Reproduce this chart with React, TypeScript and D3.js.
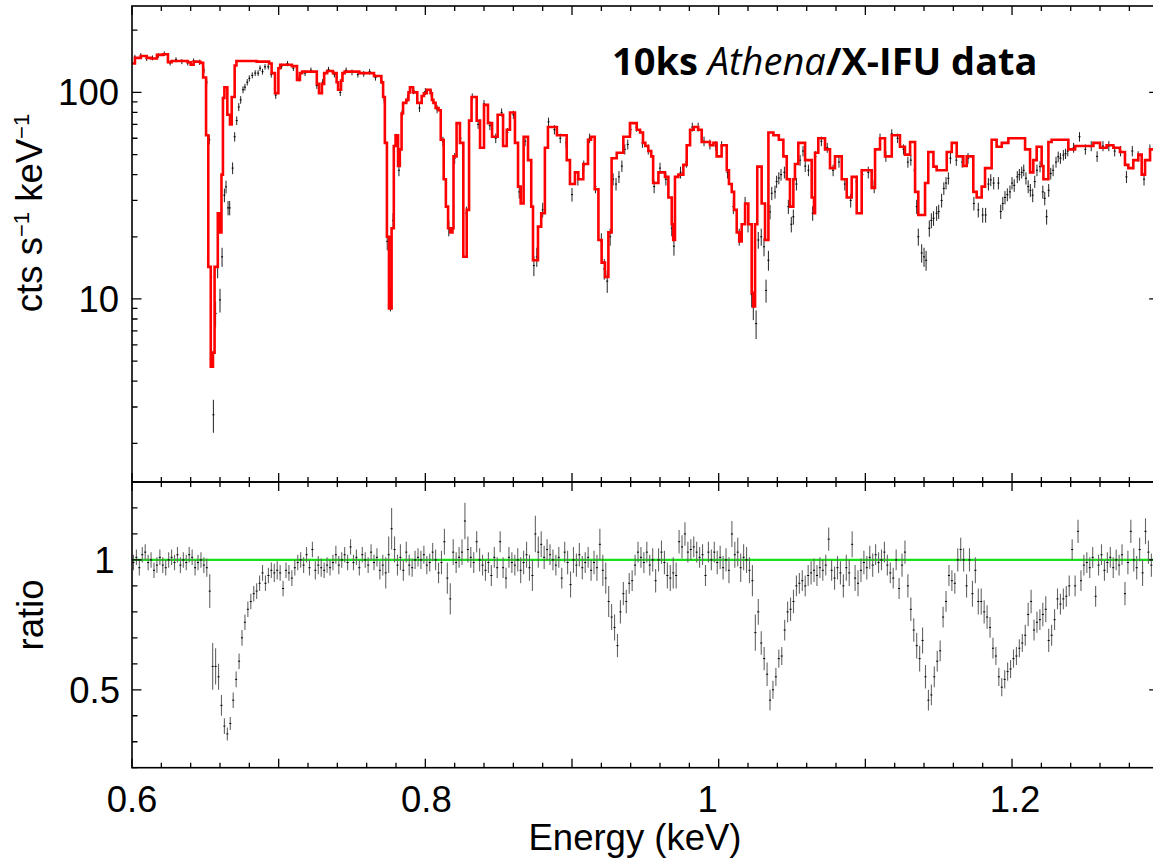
import React from 'react';
import * as d3 from 'd3';

// Model (red step line): [bin left edge keV, cts/s/keV]
const modelSteps: [number, number][] = [
  [0.600,138],[0.602,147],[0.606,150],[0.610,147],[0.613,146],[0.617,152],[0.621,153],[0.6245,140],[0.627,142],[0.638,140],
  [0.640,136],[0.642,141],[0.6465,139],[0.6485,118],[0.6505,62],[0.652,14.3],[0.6537,4.7],[0.6552,5.5],[0.6563,14.3],[0.6585,26],
  [0.6597,21],[0.661,40],[0.662,94],[0.663,106],[0.665,78],[0.6668,70],[0.668,95],[0.670,135],[0.6712,142],[0.685,141],
  [0.6935,138],[0.6952,124],[0.6975,99],[0.6998,131],[0.701,136],[0.709,134],[0.7125,115],[0.7145,124],[0.716,126],[0.726,110],
  [0.7275,99],[0.7295,110],[0.731,124],[0.733,127],[0.737,124],[0.7395,112],[0.7405,103],[0.7425,114],[0.7435,124],[0.745,126],
  [0.755,124],[0.765,120],[0.770,112],[0.7712,95],[0.7724,57],[0.7738,20],[0.7752,9],[0.777,22],[0.7785,55],[0.7797,62],
  [0.7814,44],[0.7826,53],[0.7838,79],[0.7848,89],[0.787,92],[0.7885,100],[0.7895,106],[0.7916,100],[0.7945,89],[0.7975,96],
  [0.799,99],[0.801,103],[0.8035,99],[0.8045,92],[0.8055,89],[0.807,84],[0.809,82],[0.8105,59],[0.8125,38],[0.814,28],
  [0.8155,22],[0.817,21],[0.8185,22],[0.8192,49],[0.8213,71],[0.8236,57],[0.8259,16],[0.8282,27],[0.8298,73],[0.8315,95],
  [0.835,73],[0.8373,54],[0.840,87],[0.8427,71],[0.8455,61],[0.8493,78],[0.853,55],[0.8555,66],[0.8577,80],[0.8611,57],
  [0.8632,35],[0.865,29],[0.867,61],[0.870,47],[0.8722,28],[0.8734,15.4],[0.8768,22.4],[0.879,26],[0.8815,54],[0.8836,68],
  [0.8897,62],[0.8964,47],[0.8986,36],[0.902,41],[0.9043,38],[0.9077,45],[0.9109,59],[0.913,61],[0.9155,34],[0.918,19.3],
  [0.9202,15],[0.9225,12.8],[0.9248,21],[0.927,48],[0.9305,51],[0.935,61],[0.9395,71],[0.9441,66],[0.9464,64],[0.9484,57],
  [0.950,55],[0.952,52],[0.954,49],[0.9553,36.4],[0.9589,41],[0.9634,39],[0.9657,31],[0.968,23],[0.969,19.3],[0.9702,39],
  [0.9725,40],[0.9759,44.6],[0.9782,55.5],[0.9805,66],[0.983,68],[0.986,66],[0.9884,57.5],[0.9941,55.5],[0.9964,57],[0.9986,49],
  [1.002,55.5],[1.0055,42],[1.007,36],[1.0089,33],[1.0105,27],[1.0123,21],[1.014,19],[1.0157,23],[1.018,29],[1.0202,23],
  [1.0225,10.7],[1.0235,9.2],[1.0248,23],[1.0263,43.7],[1.0293,29],[1.0316,19.3],[1.0339,64],[1.0373,62],[1.041,59],[1.0441,49],
  [1.0464,38],[1.0486,28],[1.0509,38],[1.052,45],[1.0543,57],[1.0589,47],[1.0634,31],[1.065,26],[1.0657,51],[1.0679,60],
  [1.0725,53],[1.0759,43],[1.0793,49],[1.0839,38],[1.0873,31],[1.0907,39],[1.0941,26],[1.0975,42],[1.1043,34.5],[1.1066,53],
  [1.11,60],[1.1134,49],[1.118,62],[1.1236,54.6],[1.127,50],[1.1305,57.5],[1.1339,33],[1.1361,25.5],[1.1407,36.4],[1.1429,51.5],
  [1.1464,43.7],[1.1486,42],[1.1555,51.5],[1.1589,57],[1.1623,49],[1.1668,44],[1.1691,49],[1.1736,33],[1.1759,31],[1.1793,35],
  [1.1816,43],[1.1861,59],[1.1895,54.6],[1.193,57],[1.1975,60],[1.2089,53],[1.2123,41],[1.2145,47],[1.2168,54.6],[1.2202,44],
  [1.2214,38],[1.2248,57.5],[1.227,59],[1.2384,53],[1.243,55],[1.2555,57],[1.26,54],[1.2645,55.5],[1.2691,54],[1.2736,51.5],
  [1.277,44.6],[1.2793,43],[1.2827,47],[1.2861,50],[1.2884,40],[1.2907,47],[1.2941,53],[1.3,53]
];

// Data points (top panel): [keV, cts/s/keV, error]
const dataPoints: [number, number, number][] = [
  [0.602,148,4],[0.606,151,4],[0.610,146,4],[0.614,147,4],[0.618,151,4],[0.622,154,4],[0.626,139,4],[0.630,144,4],[0.634,141,4],[0.638,139,4],
  [0.642,142,4],[0.646,140,4],[0.649,128,4],[0.6509,112,4],[0.6527,59,3],[0.654,12.8,1.6],[0.6555,2.75,0.5],[0.657,8.5,1.2],[0.6584,14.2,1.6],[0.660,9.9,1.3],
  [0.6614,16,1.7],[0.663,31.8,2.4],[0.6641,34.9,2.5],[0.6655,27.6,2.2],[0.6666,27.6,2.2],[0.6686,43,2.8],[0.670,61,3.2],[0.6714,73,3.5],[0.6728,85,3.8],[0.6741,92,3.9],
  [0.6757,103,4],[0.677,106,4],[0.6786,112,4],[0.680,117,4],[0.682,121,4],[0.684,124,4],[0.686,124,4],[0.6873,131,4],[0.689,126,4],[0.6907,133,4],
  [0.6929,133,4],[0.695,122,4],[0.698,97,4],[0.702,134,4],[0.706,138,4],[0.710,131,4],[0.714,117,4],[0.718,124,4],[0.722,128,4],[0.726,108,4],
  [0.730,112,4],[0.734,129,4],[0.738,122,4],[0.742,100,4],[0.746,128,4],[0.750,125,4],[0.754,122,4],[0.758,123,4],[0.762,126,4],[0.766,118,4],
  [0.770,114,4],[0.772,92,4],[0.774,19,1.8],[0.7762,10,1.3],[0.778,24,2],[0.780,60,3],[0.782,42,2.7],[0.784,78,3.6],[0.788,94,3.9],[0.792,102,4],
  [0.796,84,3.7],[0.800,101,4],[0.804,99,4],[0.808,83,3.7],[0.812,58,3],[0.816,22,1.9],[0.820,48,2.9],[0.824,60,3],[0.828,26,2],[0.832,95,3.9],
  [0.836,70,3.4],[0.840,88,3.8],[0.844,69,3.4],[0.848,60,3.2],[0.852,80,3.6],[0.856,64,3.3],[0.860,78,3.6],[0.864,33,2.4],[0.868,58,3.1],[0.872,30,2.3],
  [0.874,14.5,1.6],[0.876,16,1.7],[0.880,27,2.2],[0.884,72,3.5],[0.888,66,3.4],[0.892,60,3.2],[0.896,57,3.1],[0.900,32,2.4],[0.904,38,2.6],[0.908,44,2.8],
  [0.912,60,3.2],[0.916,35,2.5],[0.920,19,1.8],[0.922,14,1.6],[0.924,12.2,1.5],[0.926,20,1.9],[0.928,38,2.6],[0.930,36,2.5],[0.932,39,2.6],[0.934,44,2.8],
  [0.936,53,3],[0.938,56,3.1],[0.940,66,3.4],[0.944,68,3.4],[0.948,57,3.1],[0.952,53,3],[0.956,35,2.5],[0.960,43,2.7],[0.964,38,2.6],[0.968,22,1.9],
  [0.9695,18,1.8],[0.974,41,2.7],[0.978,46,2.8],[0.982,68,3.4],[0.986,68,3.4],[0.990,58,3.1],[0.994,56,3.1],[0.998,55,3.1],[1.002,55,3.1],[1.006,41,2.7],
  [1.010,28,2.2],[1.014,20,1.9],[1.018,29,2.2],[1.020,23,2],[1.0225,10.5,1.4],[1.0236,9.2,1.3],[1.0255,7.6,1.2],[1.027,19.3,1.8],[1.029,20,1.9],[1.0309,17.9,1.8],
  [1.0323,11,1.4],[1.0339,15.4,1.7],[1.035,26.4,2.1],[1.0362,32.5,2.4],[1.0384,33,2.4],[1.0395,37,2.5],[1.041,38.5,2.6],[1.0425,40,2.6],[1.0448,41,2.7],[1.0475,28,2.2],
  [1.0495,23,2],[1.0509,25,2.1],[1.053,36,2.5],[1.0555,47,2.9],[1.0575,52,3],[1.059,44,2.8],[1.0612,42,2.7],[1.0641,26,2.1],[1.066,49,2.9],[1.070,58,3.1],
  [1.074,54,3],[1.078,42,2.7],[1.082,46,2.8],[1.086,36,2.5],[1.090,30,2.3],[1.094,37,2.5],[1.098,40,2.6],[1.102,41,2.7],[1.106,35,2.5],[1.110,60,3.2],
  [1.114,49,2.9],[1.118,63,3.3],[1.122,60,3.2],[1.126,53,3],[1.129,46,2.8],[1.131,47,2.8],[1.1335,42,2.7],[1.135,28,2.2],[1.1361,20,1.9],[1.1384,16.7,1.7],
  [1.140,16,1.7],[1.1414,15.4,1.7],[1.1436,22,2],[1.145,24,2],[1.1465,24.6,2],[1.1486,26,2.1],[1.150,26.5,2.1],[1.152,30,2.3],[1.1535,34.3,2.4],[1.155,36.4,2.5],
  [1.1566,38.4,2.6],[1.158,48,2.9],[1.162,47,2.9],[1.166,46,2.8],[1.170,48,2.9],[1.174,29,2.2],[1.177,27,2.2],[1.180,25.5,2.1],[1.182,25.5,2.1],[1.1839,36,2.5],
  [1.1855,37.7,2.5],[1.1875,36.4,2.5],[1.1907,36.4,2.5],[1.1923,26.5,2.1],[1.1937,29,2.2],[1.1952,31,2.3],[1.1968,32,2.3],[1.1986,33,2.4],[1.200,36.4,2.5],[1.2015,35.5,2.5],
  [1.2036,39,2.6],[1.205,40,2.6],[1.2066,41,2.7],[1.208,42,2.7],[1.2095,38.4,2.6],[1.211,35,2.5],[1.2125,33.6,2.4],[1.2141,31.8,2.4],[1.2155,37,2.5],[1.217,42,2.7],
  [1.2191,43.7,2.7],[1.221,33,2.4],[1.2223,30.7,2.3],[1.2236,25,2.1],[1.225,33.6,2.4],[1.2264,40.5,2.6],[1.228,42,2.7],[1.230,46,2.8],[1.2315,48.8,2.9],[1.233,48,2.9],
  [1.235,49.7,2.9],[1.2365,50.5,2.9],[1.238,52,3],[1.242,54,3],[1.246,61,3.2],[1.250,53,3],[1.254,55,3.1],[1.258,49,2.9],[1.262,55,3.1],[1.266,55,3.1],
  [1.270,52,3],[1.274,52,3],[1.278,39,2.6],[1.282,52,3],[1.286,49,2.9],[1.290,38,2.6],[1.294,53,3],[1.298,54,3]
];

// Ratio points (bottom panel): [keV, data/model, error]
const ratioPoints: [number, number, number][] = [
  [0.601,0.99,.03],[0.603,1.01,.03],[0.605,0.97,.03],[0.607,1.02,.03],[0.609,1.03,.03],[0.611,0.99,.03],[0.613,1.00,.03],[0.615,0.96,.03],[0.617,0.98,.03],[0.619,1.01,.03],
  [0.621,0.98,.03],[0.623,0.97,.03],[0.625,1.00,.03],[0.627,1.01,.03],[0.629,0.99,.03],[0.631,1.02,.03],[0.633,0.98,.03],[0.635,1.00,.03],[0.637,0.99,.03],[0.639,1.02,.03],
  [0.641,1.01,.03],[0.643,0.97,.03],[0.645,0.99,.03],[0.647,1.00,.03],[0.649,0.98,.03],[0.651,0.97,.035],[0.653,0.88,.065],[0.655,0.59,.09],[0.657,0.59,.07],[0.659,0.55,.05],
  [0.661,0.44,.04],[0.663,0.36,.03],[0.665,0.33,.025],[0.667,0.37,.025],[0.669,0.46,.03],[0.671,0.54,.03],[0.673,0.61,.03],[0.675,0.70,.03],[0.677,0.76,.03],[0.679,0.81,.03],
  [0.681,0.84,.03],[0.683,0.87,.03],[0.685,0.88,.03],[0.687,0.91,.03],[0.689,0.95,.03],[0.691,0.91,.03],[0.693,0.94,.03],[0.695,0.96,.03],[0.697,0.95,.035],[0.699,0.96,.035],
  [0.701,0.95,.03],[0.703,0.89,.03],[0.705,0.96,.03],[0.707,0.95,.03],[0.709,0.93,.03],[0.711,0.97,.03],[0.713,0.99,.03],[0.715,1.00,.03],[0.717,0.98,.03],[0.719,1.02,.03],
  [0.721,0.97,.03],[0.723,1.04,.03],[0.725,0.96,.035],[0.727,0.98,.035],[0.729,0.97,.035],[0.731,0.96,.03],[0.733,0.98,.03],[0.735,0.97,.03],[0.737,0.99,.03],[0.739,1.02,.035],
  [0.741,0.98,.035],[0.743,1.00,.03],[0.745,1.02,.03],[0.747,0.99,.03],[0.749,1.05,.03],[0.751,0.99,.03],[0.753,1.01,.03],[0.755,0.97,.03],[0.757,1.02,.03],[0.759,1.00,.03],
  [0.761,0.98,.03],[0.763,1.03,.03],[0.765,0.99,.03],[0.767,1.01,.035],[0.769,0.96,.035],[0.771,0.98,.04],[0.773,0.95,.06],[0.775,1.02,.07],[0.777,1.12,.08],[0.779,1.04,.05],
  [0.781,0.98,.04],[0.783,1.01,.05],[0.785,0.96,.04],[0.787,1.03,.04],[0.789,0.98,.04],[0.791,0.97,.035],[0.793,1.00,.035],[0.795,1.01,.035],[0.797,1.00,.035],[0.799,1.02,.035],
  [0.801,0.98,.035],[0.803,0.99,.035],[0.805,1.03,.035],[0.807,1.00,.04],[0.809,0.95,.04],[0.811,0.99,.045],[0.813,1.07,.05],[0.815,0.93,.06],[0.817,0.85,.06],[0.819,1.03,.05],
  [0.821,0.99,.04],[0.823,1.01,.04],[0.825,1.03,.05],[0.827,1.15,.07],[0.829,1.04,.05],[0.831,1.01,.04],[0.833,0.99,.04],[0.835,1.07,.04],[0.837,1.00,.045],[0.839,0.98,.04],
  [0.841,0.96,.04],[0.843,0.99,.04],[0.845,0.94,.04],[0.847,1.01,.04],[0.849,0.97,.04],[0.851,1.07,.04],[0.853,0.97,.04],[0.855,0.93,.04],[0.857,1.01,.04],[0.859,0.99,.04],
  [0.861,0.98,.04],[0.863,1.00,.045],[0.865,0.96,.05],[0.867,0.99,.045],[0.869,1.02,.05],[0.871,0.97,.05],[0.873,0.94,.06],[0.875,1.10,.07],[0.877,1.03,.06],[0.879,1.06,.05],
  [0.881,1.01,.045],[0.883,1.04,.04],[0.885,1.02,.04],[0.887,1.00,.04],[0.889,0.98,.04],[0.891,1.01,.04],[0.893,0.93,.04],[0.895,1.03,.04],[0.897,0.99,.045],[0.899,0.905,.05],
  [0.901,1.00,.05],[0.903,0.98,.045],[0.905,1.02,.045],[0.907,0.97,.045],[0.909,0.99,.04],[0.911,1.01,.04],[0.913,0.96,.04],[0.915,0.99,.045],[0.917,0.97,.05],[0.919,1.06,.06],
  [0.921,0.96,.06],[0.923,0.93,.06],[0.925,0.84,.06],[0.927,0.78,.05],[0.929,0.74,.05],[0.931,0.67,.045],[0.933,0.80,.045],[0.935,0.87,.045],[0.937,0.84,.045],[0.939,0.91,.04],
  [0.941,0.92,.04],[0.943,0.98,.04],[0.945,1.03,.04],[0.947,1.01,.04],[0.949,0.99,.04],[0.951,1.03,.04],[0.953,0.98,.04],[0.955,1.00,.045],[0.957,0.92,.045],[0.959,1.00,.045],
  [0.961,1.03,.045],[0.963,0.99,.045],[0.965,0.94,.05],[0.967,0.93,.05],[0.969,0.95,.06],[0.971,0.94,.05],[0.973,1.07,.045],[0.975,1.05,.045],[0.977,1.10,.045],[0.979,1.03,.04],
  [0.981,1.04,.04],[0.983,1.05,.04],[0.985,1.03,.04],[0.987,1.01,.04],[0.989,1.02,.04],[0.991,0.94,.04],[0.993,1.03,.04],[0.995,1.00,.04],[0.997,1.03,.04],[0.999,0.99,.045],
  [1.001,1.01,.045],[1.003,0.97,.045],[1.005,1.00,.045],[1.007,0.96,.05],[1.009,1.10,.05],[1.011,1.02,.05],[1.013,1.03,.055],[1.015,0.97,.055],[1.017,1.01,.05],[1.019,1.00,.05],
  [1.021,0.96,.05],[1.023,0.92,.06],[1.025,0.72,.07],[1.027,0.80,.05],[1.029,0.68,.045],[1.031,0.62,.045],[1.033,0.56,.045],[1.035,0.46,.04],[1.037,0.50,.035],[1.039,0.55,.035],
  [1.041,0.62,.035],[1.043,0.63,.035],[1.045,0.73,.04],[1.047,0.80,.04],[1.049,0.81,.045],[1.051,0.84,.045],[1.053,0.90,.04],[1.055,0.91,.04],[1.057,0.92,.04],[1.059,0.90,.04],
  [1.061,0.94,.04],[1.063,0.95,.045],[1.065,0.96,.045],[1.067,0.94,.04],[1.069,0.97,.04],[1.071,0.96,.04],[1.073,0.98,.04],[1.075,1.08,.045],[1.077,0.96,.04],[1.079,0.93,.045],
  [1.081,0.97,.045],[1.083,0.95,.045],[1.085,0.90,.045],[1.087,0.97,.05],[1.089,0.95,.05],[1.091,1.06,.05],[1.093,0.93,.05],[1.095,0.91,.05],[1.097,0.96,.045],[1.099,0.99,.045],
  [1.101,0.97,.045],[1.103,1.01,.045],[1.105,0.98,.045],[1.107,1.02,.04],[1.109,0.99,.04],[1.111,1.00,.04],[1.113,1.03,.04],[1.115,0.98,.04],[1.117,0.95,.04],[1.119,0.93,.04],
  [1.121,1.00,.04],[1.123,0.89,.04],[1.125,0.98,.045],[1.127,1.03,.045],[1.129,0.90,.045],[1.131,0.81,.045],[1.133,0.73,.045],[1.135,0.67,.05],[1.137,0.62,.05],[1.139,0.69,.05],
  [1.141,0.55,.045],[1.143,0.46,.04],[1.145,0.48,.04],[1.147,0.55,.04],[1.149,0.61,.04],[1.151,0.65,.04],[1.153,0.78,.04],[1.155,0.84,.04],[1.157,0.94,.04],[1.159,0.92,.04],
  [1.161,0.91,.04],[1.163,1.00,.045],[1.165,1.04,.045],[1.167,1.00,.045],[1.169,0.90,.045],[1.171,1.00,.045],[1.173,0.87,.05],[1.175,0.96,.05],[1.177,0.84,.05],[1.179,0.84,.05],
  [1.181,0.80,.045],[1.183,0.78,.045],[1.185,0.74,.04],[1.187,0.66,.04],[1.189,0.63,.035],[1.191,0.55,.035],[1.193,0.51,.035],[1.195,0.54,.035],[1.197,0.57,.035],[1.199,0.58,.035],
  [1.201,0.62,.035],[1.203,0.63,.035],[1.205,0.66,.035],[1.207,0.68,.035],[1.209,0.71,.04],[1.211,0.79,.045],[1.213,0.84,.045],[1.215,0.73,.04],[1.217,0.76,.04],[1.219,0.77,.04],
  [1.221,0.79,.045],[1.223,0.81,.05],[1.225,0.69,.045],[1.227,0.71,.04],[1.229,0.77,.04],[1.231,0.85,.04],[1.233,0.83,.04],[1.235,0.85,.04],[1.237,0.86,.04],[1.239,0.90,.04],
  [1.241,1.04,.04],[1.243,0.90,.04],[1.245,1.11,.045],[1.247,0.92,.04],[1.249,0.98,.04],[1.251,0.99,.04],[1.253,0.97,.04],[1.255,1.01,.04],[1.257,0.86,.04],[1.259,0.98,.04],
  [1.261,1.02,.04],[1.263,0.96,.04],[1.265,0.99,.04],[1.267,1.01,.04],[1.269,0.97,.04],[1.271,1.00,.04],[1.273,0.98,.04],[1.275,1.02,.04],[1.277,0.87,.045],[1.279,0.99,.045],
  [1.281,1.11,.045],[1.283,1.00,.045],[1.285,0.97,.045],[1.287,1.04,.045],[1.289,0.95,.05],[1.291,1.11,.05],[1.293,1.03,.045],[1.295,0.98,.045],[1.297,1.05,.045],[1.299,1.02,.045]
];

const xTickLabels = [0.6, 0.8, 1, 1.2];
const countTickLabels = [10, 100];
const ratioTickLabels = [0.5, 1];

const W = 1153, H = 863;
const PL = 132, PR = 1158.7;
const P1T = 6, P1B = 482, P2T = 482, P2B = 767.7;
const HW = 0.0007;
const FONT = "'Liberation Sans', Arial, Helvetica, sans-serif";
const FS = 36.5;
// small label nudges (PGPLOT-like placement of single-digit labels)
const xLabelDx = (v: number) => (v === 1 ? -11 : v === 1.2 ? 3 : v === 0.8 ? 1 : 0);
const yLabelDx = (v: number) => (v === 1 ? -5.5 : 0);

export default function App() {
  const x = d3.scaleLinear().domain([0.6, 1.3]).range([PL, PR]);
  const yC = d3.scaleLog().domain([1.3, 262]).range([P1B, P1T]);
  const yR = d3.scaleLinear().domain([0.2, 1.3]).range([P2B, P2T]);

  const modelPath = d3.line<[number, number]>()
    .x(d => x(d[0])).y(d => yC(d[1])).curve(d3.curveStepAfter)(modelSteps) || '';

  const dataV = dataPoints.map(([e, v, er]) => `M${x(e).toFixed(2)},${yC(v - er).toFixed(2)}V${yC(v + er).toFixed(2)}`).join('');
  const dataH = dataPoints.map(([e, v]) => `M${x(e - HW).toFixed(2)},${yC(v).toFixed(2)}H${x(e + HW).toFixed(2)}`).join('');
  const ratV = ratioPoints.map(([e, r, er]) => `M${x(e).toFixed(2)},${yR(r - er).toFixed(2)}V${yR(r + er).toFixed(2)}`).join('');
  const ratH = ratioPoints.map(([e, r]) => `M${x(e - HW).toFixed(2)},${yR(r).toFixed(2)}H${x(e + HW).toFixed(2)}`).join('');

  const xMinor = x.ticks(35);
  const isXMajor = (t: number) => Math.abs(t * 10 - Math.round(t * 10)) < 1e-6;
  const isLogMajor = (t: number) => Math.abs(Math.log10(t) - Math.round(Math.log10(t))) < 1e-6;
  const isRatioMajor = (t: number) => Math.abs(t * 2 - Math.round(t * 2)) < 1e-6;

  const panelTicks = (yScale: (v: number) => number, yTicks: number[], isMajorY: (t: number) => boolean, top: number, bottom: number) => {
    let p = '';
    for (const t of xMinor) {
      const len = isXMajor(t) ? 9 : 5;
      const X = x(t).toFixed(2);
      p += `M${X},${bottom}v${-len}M${X},${top}v${len}`;
    }
    for (const t of yTicks) {
      const len = isMajorY(t) ? 9.5 : 5.5;
      const Y = yScale(t).toFixed(2);
      p += `M${PL},${Y}h${len}M${PR},${Y}h${-len}`;
    }
    return p;
  };
  const ticksTop = panelTicks(yC, yC.ticks(), isLogMajor, P1T, P1B);
  const ticksBot = panelTicks(yR, yR.ticks(11), isRatioMajor, P2T, P2B);

  return (
    <svg width={W} height={H} viewBox={`0 0 ${W} ${H}`} style={{ position: 'absolute', left: 0, top: 0, background: '#fff' }}>
      <defs>
        <clipPath id="clipTop"><rect x={PL} y={P1T} width={PR - PL} height={P1B - P1T} /></clipPath>
        <clipPath id="clipBot"><rect x={PL} y={P2T} width={PR - PL} height={P2B - P2T} /></clipPath>
      </defs>
      <rect x={0} y={0} width={W} height={H} fill="#fff" />

      {/* Top panel */}
      <g clipPath="url(#clipTop)">
        <path d={dataV} stroke="#222" strokeWidth={1} fill="none" />
        <path d={dataH} stroke="#000" strokeWidth={1} fill="none" />
        <path d={modelPath} stroke="#ff0000" strokeWidth={2.6} fill="none" strokeLinejoin="miter" />
      </g>
      {/* Bottom panel */}
      <g clipPath="url(#clipBot)">
        <line x1={PL} x2={PR} y1={yR(1)} y2={yR(1)} stroke="#16e016" strokeWidth={2.2} />
        <path d={ratV} stroke="#666" strokeWidth={1.1} fill="none" />
        <path d={ratH} stroke="#000" strokeWidth={1} fill="none" />
      </g>

      {/* frames & ticks */}
      <path d={ticksTop} stroke="#000" strokeWidth={1.3} fill="none" />
      <path d={ticksBot} stroke="#000" strokeWidth={1.3} fill="none" />
      <rect x={PL} y={P1T} width={PR - PL} height={P1B - P1T} fill="none" stroke="#000" strokeWidth={1.6} />
      <rect x={PL} y={P2T} width={PR - PL} height={P2B - P2T} fill="none" stroke="#000" strokeWidth={1.6} />

      {/* tick labels */}
      <g fontFamily={FONT} fontSize={FS} fill="#000">
        {countTickLabels.map(v => (
          <text key={'c' + v} x={119} y={yC(v) + 13} textAnchor="end">{String(v)}</text>
        ))}
        {ratioTickLabels.map(v => (
          <text key={'r' + v} x={120 + yLabelDx(v)} y={yR(v) + 13} textAnchor="end">{String(v)}</text>
        ))}
        {xTickLabels.map(v => (
          <text key={'x' + v} x={x(v) + xLabelDx(v)} y={812} textAnchor="middle">{String(v)}</text>
        ))}
        <text x={635} y={850} textAnchor="middle">Energy (keV)</text>
        <text transform="translate(41.5,213) rotate(-90)" textAnchor="middle">
          cts s<tspan fontSize={22} dy={-13}>−1</tspan><tspan dy={13}> keV</tspan><tspan fontSize={22} dy={-13}>−1</tspan>
        </text>
        <text transform="translate(43,615) rotate(-90)" textAnchor="middle">ratio</text>
      </g>

      {/* title */}
      <text x={612} y={75} fontFamily="'Open Sans', sans-serif" fontSize={38} fontWeight={700} fill="#000">
        10ks <tspan fontStyle="italic" fontWeight={400}>Athena</tspan>/X-IFU data
      </text>
    </svg>
  );
}
